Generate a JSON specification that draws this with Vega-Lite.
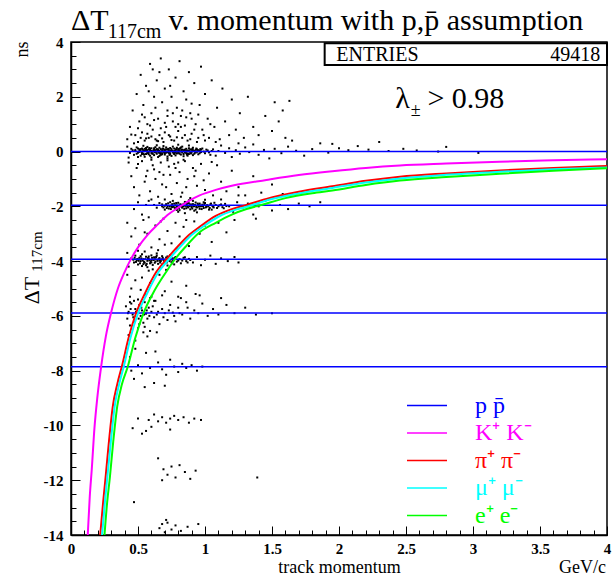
{
  "$schema": "https://vega.github.io/schema/vega-lite/v6.json",
  "width": 536,
  "height": 493,
  "autosize": "none",
  "padding": {"left": 71, "top": 42, "right": 9, "bottom": 47},
  "background": "white",
  "title": {
    "text": "ΔT\u00a0\u00a0\u00a0\u00a0\u00a0\u00a0\u00a0\u00a0v. momentum with p,p\u0304 assumption",
    "subtitle": "\u2060\u00a0\u00a0\u00a0\u00a0\u00a0\u00a0\u00a0\u200a117cm",
    "anchor": "start",
    "frame": "group",
    "font": "Liberation Serif",
    "fontSize": 30,
    "fontWeight": "normal",
    "color": "black",
    "subtitleFont": "Liberation Serif",
    "subtitleFontSize": 20,
    "subtitleColor": "black",
    "subtitlePadding": -14,
    "offset": 4,
    "dy": 11
  },
  "config": {
    "view": {"stroke": "black", "strokeWidth": 1.5},
    "axis": {
      "grid": false,
      "labelFont": "Liberation Serif",
      "labelFontWeight": "bold",
      "labelFontSize": 15,
      "labelColor": "black",
      "titleFont": "Liberation Serif",
      "titleFontWeight": "normal",
      "titleColor": "black",
      "tickColor": "black",
      "domainColor": "black",
      "labelFlush": false,
      "labelOverlap": false
    }
  },
  "datasets": {
    "pts": [
      {"p":0.46,"t":0.05},{"p":0.47,"t":-0.12},{"p":0.48,"t":0.02},{"p":0.49,"t":0.15},{"p":0.50,"t":-0.04},{"p":0.51,"t":0.08},{"p":0.52,"t":-0.15},{"p":0.52,"t":0.01},{"p":0.53,"t":0.11},{"p":0.54,"t":-0.07},{"p":0.55,"t":0.03},{"p":0.55,"t":-0.19},{"p":0.56,"t":0.06},{"p":0.57,"t":-0.02},{"p":0.57,"t":0.17},{"p":0.58,"t":-0.10},{"p":0.59,"t":0.04},{"p":0.60,"t":-0.05},{"p":0.60,"t":0.12},{"p":0.61,"t":0.00},{"p":0.62,"t":-0.13},{"p":0.62,"t":0.07},{"p":0.63,"t":-0.03},{"p":0.64,"t":0.09},{"p":0.64,"t":-0.08},{"p":0.65,"t":0.02},{"p":0.66,"t":-0.16},{"p":0.66,"t":0.14},{"p":0.67,"t":-0.01},{"p":0.68,"t":0.05},{"p":0.68,"t":-0.06},{"p":0.69,"t":0.10},{"p":0.70,"t":-0.11},{"p":0.70,"t":0.03},{"p":0.71,"t":-0.04},{"p":0.72,"t":0.07},{"p":0.72,"t":-0.18},{"p":0.73,"t":0.01},{"p":0.74,"t":0.13},{"p":0.74,"t":-0.07},{"p":0.75,"t":0.04},{"p":0.76,"t":-0.02},{"p":0.76,"t":0.18},{"p":0.77,"t":-0.09},{"p":0.78,"t":0.06},{"p":0.78,"t":-0.14},{"p":0.79,"t":0.00},{"p":0.80,"t":0.09},{"p":0.80,"t":-0.05},{"p":0.81,"t":0.03},{"p":0.82,"t":-0.11},{"p":0.82,"t":0.15},{"p":0.83,"t":-0.03},{"p":0.84,"t":0.05},{"p":0.84,"t":-0.17},{"p":0.85,"t":0.01},{"p":0.86,"t":0.10},{"p":0.86,"t":-0.06},{"p":0.87,"t":0.04},{"p":0.88,"t":-0.09},{"p":0.88,"t":0.12},{"p":0.89,"t":-0.01},{"p":0.90,"t":0.06},{"p":0.91,"t":-0.13},{"p":0.92,"t":0.02},{"p":0.93,"t":-0.04},{"p":0.94,"t":0.08},{"p":0.95,"t":-0.10},{"p":0.96,"t":0.03},{"p":0.97,"t":-0.02},{"p":0.98,"t":0.11},{"p":1.00,"t":-0.06},{"p":1.02,"t":0.04},{"p":1.04,"t":-0.12},{"p":0.53,"t":-0.09},{"p":0.56,"t":0.13},{"p":0.59,"t":-0.15},{"p":0.63,"t":0.16},{"p":0.67,"t":-0.12},{"p":0.71,"t":0.15},{"p":0.75,"t":-0.16},{"p":0.79,"t":0.14},{"p":0.83,"t":0.18},{"p":0.87,"t":-0.15},{"p":0.91,"t":0.14},{"p":0.58,"t":0.08},{"p":0.65,"t":-0.20},{"p":0.69,"t":0.20},{"p":0.73,"t":-0.05},{"p":0.77,"t":0.11},{"p":0.81,"t":-0.08},{"p":0.85,"t":0.07},{"p":0.62,"t":0.03},{"p":0.66,"t":-0.03},{"p":0.70,"t":0.06},{"p":0.74,"t":0.00},{"p":0.78,"t":-0.04},{"p":0.60,"t":-0.22},{"p":0.64,"t":0.23},{"p":0.72,"t":-0.25},{"p":0.80,"t":0.25},{"p":0.88,"t":0.22},{"p":0.54,"t":0.21},{"p":0.50,"t":-0.20},{"p":0.45,"t":0.10},{"p":0.44,"t":-0.05},{"p":0.42,"t":0.18},{"p":0.43,"t":-0.22},
      {"p":0.48,"t":0.06},{"p":0.49,"t":-0.08},{"p":0.50,"t":0.11},{"p":0.51,"t":-0.01},{"p":0.52,"t":0.09},{"p":0.53,"t":-0.05},{"p":0.54,"t":0.04},{"p":0.55,"t":0.10},{"p":0.56,"t":-0.09},{"p":0.57,"t":0.05},{"p":0.58,"t":-0.03},{"p":0.59,"t":0.09},{"p":0.60,"t":0.02},{"p":0.61,"t":-0.08},{"p":0.62,"t":0.12},{"p":0.63,"t":0.05},{"p":0.64,"t":-0.01},{"p":0.65,"t":0.08},{"p":0.66,"t":0.03},{"p":0.67,"t":0.09},{"p":0.68,"t":-0.10},{"p":0.69,"t":0.01},{"p":0.70,"t":-0.06},{"p":0.71,"t":0.08},{"p":0.72,"t":-0.02},{"p":0.73,"t":0.06},{"p":0.74,"t":-0.10},{"p":0.75,"t":0.09},{"p":0.76,"t":0.02},{"p":0.77,"t":-0.05},{"p":0.78,"t":0.01},{"p":0.79,"t":-0.07},{"p":0.80,"t":0.04},{"p":0.81,"t":0.10},{"p":0.82,"t":0.00},{"p":0.83,"t":0.07},{"p":0.84,"t":-0.09},{"p":0.85,"t":-0.03},{"p":0.86,"t":0.02},{"p":0.87,"t":-0.07},{"p":0.88,"t":0.03},{"p":0.89,"t":0.08},{"p":0.90,"t":-0.04},{"p":0.91,"t":0.05},{"p":0.92,"t":-0.08},{"p":0.93,"t":0.06},{"p":0.94,"t":-0.01},{"p":0.95,"t":0.05},{"p":0.96,"t":-0.06},{"p":0.97,"t":0.07},{"p":0.99,"t":0.00},{"p":1.01,"t":0.07},{"p":1.03,"t":-0.03},{"p":1.05,"t":0.02},{"p":0.505,"t":0.00},{"p":0.515,"t":0.05},{"p":0.545,"t":-0.11},{"p":0.565,"t":0.01},{"p":0.585,"t":0.13},{"p":0.605,"t":-0.07},{"p":0.625,"t":-0.02},{"p":0.645,"t":0.05},{"p":0.665,"t":-0.07},{"p":0.685,"t":0.11},{"p":0.705,"t":0.00},{"p":0.725,"t":0.10},{"p":0.745,"t":0.03},{"p":0.765,"t":-0.06},{"p":0.785,"t":0.09},{"p":0.805,"t":-0.01},{"p":0.825,"t":0.06},{"p":0.845,"t":0.01},{"p":0.865,"t":-0.11},{"p":0.885,"t":0.00},{"p":0.905,"t":0.10},{"p":0.925,"t":-0.01},{"p":0.945,"t":0.03},{"p":0.965,"t":0.09},{"p":0.535,"t":0.07},{"p":0.575,"t":-0.06},{"p":0.615,"t":0.04},{"p":0.655,"t":-0.04},{"p":0.695,"t":-0.03},{"p":0.735,"t":-0.12},{"p":0.775,"t":0.02},{"p":0.815,"t":0.12},{"p":0.855,"t":-0.01},{"p":0.895,"t":-0.07},{"p":0.935,"t":0.11},
      {"p":1.06,"t":0.08},{"p":1.08,"t":-0.15},{"p":1.10,"t":0.02},{"p":1.12,"t":0.22},{"p":1.15,"t":-0.05},{"p":1.18,"t":0.12},{"p":1.20,"t":-0.20},{"p":1.23,"t":0.05},{"p":1.26,"t":-0.08},{"p":1.30,"t":0.15},{"p":1.33,"t":-0.02},{"p":1.36,"t":0.26},{"p":1.40,"t":-0.12},{"p":1.44,"t":0.06},{"p":1.48,"t":-0.25},{"p":1.52,"t":0.10},{"p":1.57,"t":-0.06},{"p":1.62,"t":0.18},{"p":1.68,"t":0.03},{"p":1.74,"t":-0.15},{"p":1.80,"t":0.09},{"p":1.86,"t":0.30},{"p":1.92,"t":-0.04},{"p":2.00,"t":0.12},{"p":2.07,"t":0.05},{"p":2.14,"t":0.20},{"p":2.22,"t":0.07},{"p":2.30,"t":0.35},{"p":2.37,"t":0.02},{"p":2.48,"t":0.10},{"p":2.58,"t":0.04},{"p":1.95,"t":0.28},{"p":1.65,"t":0.40},{"p":1.25,"t":0.30},{"p":2.74,"t":0.0},{"p":2.80,"t":0.17},{"p":3.04,"t":-0.05},
      {"p":0.42,"t":0.45},{"p":0.44,"t":0.9},{"p":0.46,"t":1.5},{"p":0.48,"t":0.6},{"p":0.49,"t":2.1},{"p":0.50,"t":0.35},{"p":0.51,"t":1.1},{"p":0.52,"t":2.8},{"p":0.53,"t":0.7},{"p":0.54,"t":1.7},{"p":0.55,"t":0.4},{"p":0.56,"t":2.4},{"p":0.57,"t":1.0},{"p":0.58,"t":0.5},{"p":0.59,"t":3.2},{"p":0.60,"t":1.4},{"p":0.61,"t":0.8},{"p":0.62,"t":2.0},{"p":0.63,"t":0.45},{"p":0.64,"t":2.6},{"p":0.65,"t":1.2},{"p":0.66,"t":0.6},{"p":0.67,"t":3.4},{"p":0.68,"t":1.8},{"p":0.69,"t":0.35},{"p":0.70,"t":2.3},{"p":0.71,"t":0.9},{"p":0.72,"t":1.5},{"p":0.73,"t":3.0},{"p":0.74,"t":0.55},{"p":0.75,"t":2.0},{"p":0.76,"t":1.1},{"p":0.77,"t":0.4},{"p":0.78,"t":2.7},{"p":0.79,"t":1.6},{"p":0.80,"t":0.75},{"p":0.81,"t":3.3},{"p":0.82,"t":1.3},{"p":0.83,"t":0.5},{"p":0.84,"t":2.2},{"p":0.85,"t":0.95},{"p":0.86,"t":1.9},{"p":0.87,"t":0.4},{"p":0.88,"t":2.9},{"p":0.89,"t":1.4},{"p":0.90,"t":0.65},{"p":0.92,"t":2.5},{"p":0.93,"t":1.0},{"p":0.94,"t":0.35},{"p":0.96,"t":1.7},{"p":0.97,"t":3.1},{"p":0.98,"t":0.8},{"p":1.00,"t":2.1},{"p":1.02,"t":1.2},{"p":1.03,"t":0.5},{"p":1.05,"t":2.6},{"p":1.07,"t":0.9},{"p":1.09,"t":1.6},{"p":1.11,"t":0.45},{"p":1.13,"t":2.3},{"p":1.15,"t":1.1},{"p":1.18,"t":0.6},{"p":1.20,"t":1.9},{"p":1.23,"t":0.8},{"p":1.26,"t":1.4},{"p":1.29,"t":0.5},{"p":1.32,"t":2.0},{"p":1.36,"t":0.9},{"p":1.40,"t":0.6},{"p":1.45,"t":1.3},{"p":1.50,"t":0.75},{"p":1.55,"t":1.1},{"p":1.60,"t":0.5},{"p":0.47,"t":0.3},{"p":0.55,"t":1.25},{"p":0.60,"t":0.55},{"p":0.65,"t":0.38},{"p":0.70,"t":0.7},{"p":0.75,"t":0.42},{"p":0.80,"t":1.0},{"p":0.85,"t":0.6},{"p":0.90,"t":1.2},{"p":0.95,"t":0.5},{"p":0.63,"t":1.6},{"p":0.72,"t":1.3},{"p":0.78,"t":0.9},{"p":0.68,"t":0.48},{"p":0.57,"t":0.65},{"p":0.83,"t":1.5},{"p":0.58,"t":2.2},{"p":0.74,"t":2.4},{"p":0.66,"t":2.9},{"p":0.90,"t":1.75},{"p":1.00,"t":0.4},{"p":0.52,"t":0.5},{"p":0.61,"t":3.0},{"p":1.52,"t":1.8},{"p":1.58,"t":1.5},{"p":1.63,"t":1.85},
      {"p":0.45,"t":0.62},{"p":0.50,"t":0.85},{"p":0.53,"t":1.35},{"p":0.56,"t":0.48},{"p":0.59,"t":0.95},{"p":0.62,"t":1.15},{"p":0.64,"t":0.4},{"p":0.67,"t":0.85},{"p":0.70,"t":1.05},{"p":0.73,"t":0.6},{"p":0.76,"t":1.4},{"p":0.79,"t":0.52},{"p":0.82,"t":0.9},{"p":0.86,"t":1.25},{"p":0.89,"t":0.45},{"p":0.92,"t":0.8},{"p":0.95,"t":1.35},{"p":0.99,"t":0.6},{"p":1.04,"t":1.0},{"p":1.08,"t":0.35},{"p":0.50,"t":-0.45},{"p":0.56,"t":-0.9},{"p":0.62,"t":-0.65},{"p":0.68,"t":-1.2},{"p":0.74,"t":-0.85},{"p":0.80,"t":-0.4},{"p":0.86,"t":-1.3},{"p":0.93,"t":-0.7},{"p":0.99,"t":-1.05},{"p":1.05,"t":-0.38},{"p":0.70,"t":-1.75},{"p":0.58,"t":-1.8},{"p":0.82,"t":-1.65},{"p":1.12,"t":-1.75},
      {"p":0.43,"t":-0.4},{"p":0.45,"t":-0.9},{"p":0.47,"t":-1.3},{"p":0.49,"t":-0.6},{"p":0.51,"t":-1.6},{"p":0.53,"t":-0.35},{"p":0.55,"t":-1.1},{"p":0.57,"t":-0.7},{"p":0.59,"t":-1.45},{"p":0.61,"t":-0.5},{"p":0.63,"t":-1.0},{"p":0.65,"t":-1.65},{"p":0.67,"t":-0.4},{"p":0.69,"t":-0.85},{"p":0.71,"t":-1.3},{"p":0.73,"t":-0.55},{"p":0.75,"t":-1.55},{"p":0.77,"t":-0.45},{"p":0.79,"t":-1.15},{"p":0.81,"t":-0.75},{"p":0.83,"t":-1.5},{"p":0.85,"t":-0.35},{"p":0.87,"t":-1.0},{"p":0.89,"t":-1.7},{"p":0.91,"t":-0.6},{"p":0.94,"t":-1.25},{"p":0.97,"t":-0.45},{"p":1.00,"t":-1.4},{"p":1.03,"t":-0.8},{"p":1.06,"t":-1.6},{"p":1.09,"t":-0.5},{"p":1.12,"t":-1.1},{"p":1.16,"t":-1.45},{"p":1.20,"t":-0.7},{"p":1.25,"t":-1.3},{"p":1.30,"t":-1.6},{"p":1.36,"t":-0.9},{"p":1.42,"t":-1.5},{"p":1.50,"t":-1.2},{"p":1.58,"t":-1.55},{"p":0.60,"t":-0.3},{"p":0.72,"t":-0.32},{"p":0.84,"t":-0.3},{"p":0.66,"t":-0.75},{"p":0.78,"t":-0.6},{"p":0.92,"t":-0.9},
      {"p":0.62,"t":-1.95},{"p":0.64,"t":-2.05},{"p":0.66,"t":-1.88},{"p":0.68,"t":-2.00},{"p":0.70,"t":-2.12},{"p":0.71,"t":-1.92},{"p":0.72,"t":-1.99},{"p":0.73,"t":-2.08},{"p":0.74,"t":-1.85},{"p":0.75,"t":-1.97},{"p":0.76,"t":-2.03},{"p":0.77,"t":-1.90},{"p":0.78,"t":-2.10},{"p":0.78,"t":-1.96},{"p":0.79,"t":-2.02},{"p":0.80,"t":-1.87},{"p":0.81,"t":-1.99},{"p":0.81,"t":-2.14},{"p":0.82,"t":-1.94},{"p":0.83,"t":-2.05},{"p":0.84,"t":-1.91},{"p":0.84,"t":-2.00},{"p":0.85,"t":-1.84},{"p":0.86,"t":-2.07},{"p":0.86,"t":-1.97},{"p":0.87,"t":-2.01},{"p":0.88,"t":-1.89},{"p":0.89,"t":-2.11},{"p":0.89,"t":-1.95},{"p":0.90,"t":-2.03},{"p":0.91,"t":-1.92},{"p":0.92,"t":-1.99},{"p":0.92,"t":-2.16},{"p":0.93,"t":-1.86},{"p":0.94,"t":-2.04},{"p":0.95,"t":-1.96},{"p":0.96,"t":-2.09},{"p":0.96,"t":-1.90},{"p":0.97,"t":-2.00},{"p":0.98,"t":-1.94},{"p":0.99,"t":-2.06},{"p":1.00,"t":-1.88},{"p":1.01,"t":-2.02},{"p":1.02,"t":-1.97},{"p":1.03,"t":-2.12},{"p":1.04,"t":-1.93},{"p":1.06,"t":-2.01},{"p":1.07,"t":-1.87},{"p":1.09,"t":-2.06},{"p":1.11,"t":-1.96},{"p":1.13,"t":-2.03},{"p":1.15,"t":-1.91},{"p":1.18,"t":-2.00},{"p":0.80,"t":-2.20},{"p":0.88,"t":-1.78},{"p":0.94,"t":-2.22},{"p":1.00,"t":-1.76},{"p":0.76,"t":-1.80},{"p":0.85,"t":-2.25},{"p":0.91,"t":-1.80},
      {"p":0.68,"t":-1.93},{"p":0.69,"t":-2.04},{"p":0.70,"t":-1.98},{"p":0.715,"t":-2.06},{"p":0.725,"t":-1.89},{"p":0.735,"t":-2.00},{"p":0.745,"t":-2.10},{"p":0.755,"t":-1.92},{"p":0.765,"t":-1.99},{"p":0.775,"t":-2.05},{"p":0.785,"t":-1.88},{"p":0.795,"t":-1.97},{"p":0.805,"t":-2.07},{"p":0.815,"t":-1.93},{"p":0.825,"t":-2.01},{"p":0.835,"t":-1.96},{"p":0.845,"t":-2.09},{"p":0.855,"t":-1.98},{"p":0.865,"t":-1.91},{"p":0.875,"t":-2.04},{"p":0.885,"t":-1.99},{"p":0.895,"t":-1.93},{"p":0.905,"t":-2.08},{"p":0.915,"t":-2.00},{"p":0.925,"t":-1.95},{"p":0.935,"t":-2.02},{"p":0.945,"t":-1.90},{"p":0.955,"t":-2.01},{"p":0.965,"t":-1.97},{"p":0.975,"t":-2.10},{"p":0.985,"t":-1.99},{"p":0.995,"t":-1.92},{"p":1.005,"t":-2.04},{"p":1.015,"t":-1.96},{"p":1.025,"t":-2.00},{"p":1.035,"t":-2.06},{"p":1.045,"t":-1.90},{"p":1.055,"t":-1.98},{"p":1.065,"t":-2.04},{"p":1.08,"t":-1.95},{"p":1.10,"t":-2.00},{"p":1.12,"t":-1.93},{"p":1.14,"t":-2.07},{"p":1.16,"t":-1.99},{"p":0.79,"t":-2.13},{"p":0.87,"t":-1.85},{"p":0.93,"t":-2.12},{"p":0.99,"t":-1.85},{"p":0.83,"t":-1.98},{"p":0.90,"t":-1.98},{"p":0.95,"t":-1.94},{"p":0.75,"t":-2.02},{"p":1.05,"t":-2.12},
      {"p":0.47,"t":-2.1},{"p":0.50,"t":-1.85},{"p":0.53,"t":-2.3},{"p":0.56,"t":-1.95},{"p":0.58,"t":-2.4},{"p":0.60,"t":-1.75},{"p":1.21,"t":-2.2},{"p":1.24,"t":-1.85},{"p":1.28,"t":-2.05},{"p":1.32,"t":-1.9},{"p":1.36,"t":-2.3},{"p":1.40,"t":-2.0},{"p":1.45,"t":-1.8},{"p":1.50,"t":-2.15},{"p":1.56,"t":-1.95},{"p":1.62,"t":-2.1},{"p":1.70,"t":-1.9},{"p":1.78,"t":-2.0},{"p":1.86,"t":-1.85},{"p":1.25,"t":-1.6},{"p":1.55,"t":-1.65},{"p":1.38,"t":-2.45},
      {"p":0.42,"t":-2.6},{"p":0.45,"t":-3.1},{"p":0.48,"t":-2.8},{"p":0.51,"t":-3.4},{"p":0.54,"t":-2.5},{"p":0.57,"t":-3.0},{"p":0.60,"t":-3.5},{"p":0.63,"t":-2.7},{"p":0.66,"t":-3.2},{"p":0.69,"t":-2.45},{"p":0.72,"t":-2.9},{"p":0.75,"t":-3.35},{"p":0.78,"t":-2.6},{"p":0.81,"t":-3.1},{"p":0.84,"t":-2.75},{"p":0.88,"t":-3.45},{"p":0.92,"t":-2.55},{"p":0.96,"t":-3.0},{"p":1.00,"t":-2.7},{"p":1.05,"t":-3.3},{"p":1.10,"t":-2.6},{"p":1.16,"t":-2.95},{"p":1.22,"t":-2.5},{"p":0.55,"t":-2.95},{"p":0.67,"t":-2.55},{"p":0.79,"t":-3.55},{"p":0.70,"t":-3.4},{"p":0.86,"t":-2.5},
      {"p":0.45,"t":-3.90},{"p":0.47,"t":-4.05},{"p":0.48,"t":-3.80},{"p":0.49,"t":-3.97},{"p":0.50,"t":-4.12},{"p":0.51,"t":-3.88},{"p":0.52,"t":-4.00},{"p":0.53,"t":-3.75},{"p":0.53,"t":-4.18},{"p":0.54,"t":-3.93},{"p":0.55,"t":-4.06},{"p":0.56,"t":-3.84},{"p":0.57,"t":-3.99},{"p":0.57,"t":-4.22},{"p":0.58,"t":-3.91},{"p":0.59,"t":-4.08},{"p":0.60,"t":-3.79},{"p":0.60,"t":-3.96},{"p":0.61,"t":-4.14},{"p":0.62,"t":-3.86},{"p":0.63,"t":-4.02},{"p":0.63,"t":-3.93},{"p":0.64,"t":-3.72},{"p":0.65,"t":-4.10},{"p":0.66,"t":-3.89},{"p":0.67,"t":-4.00},{"p":0.67,"t":-4.25},{"p":0.68,"t":-3.82},{"p":0.69,"t":-3.95},{"p":0.70,"t":-4.07},{"p":0.71,"t":-3.87},{"p":0.72,"t":-4.16},{"p":0.73,"t":-3.94},{"p":0.74,"t":-3.78},{"p":0.75,"t":-4.04},{"p":0.76,"t":-3.90},{"p":0.77,"t":-4.12},{"p":0.78,"t":-3.85},{"p":0.80,"t":-3.98},{"p":0.82,"t":-4.08},{"p":0.84,"t":-3.88},{"p":0.86,"t":-4.00},{"p":0.88,"t":-3.92},{"p":0.55,"t":-3.65},{"p":0.61,"t":-4.30},{"p":0.65,"t":-3.60},{"p":0.71,"t":-4.32},{"p":0.58,"t":-4.35},{"p":0.50,"t":-3.62},
      {"p":0.465,"t":-3.95},{"p":0.475,"t":-3.88},{"p":0.485,"t":-4.03},{"p":0.495,"t":-3.92},{"p":0.505,"t":-3.99},{"p":0.515,"t":-4.08},{"p":0.525,"t":-3.90},{"p":0.535,"t":-3.98},{"p":0.545,"t":-4.03},{"p":0.555,"t":-3.93},{"p":0.565,"t":-4.10},{"p":0.575,"t":-3.89},{"p":0.585,"t":-3.97},{"p":0.595,"t":-4.02},{"p":0.605,"t":-3.88},{"p":0.615,"t":-3.96},{"p":0.625,"t":-4.06},{"p":0.635,"t":-3.85},{"p":0.645,"t":-3.99},{"p":0.655,"t":-3.92},{"p":0.665,"t":-4.05},{"p":0.675,"t":-3.94},{"p":0.685,"t":-3.88},{"p":0.695,"t":-4.01},{"p":0.705,"t":-3.95},{"p":0.715,"t":-4.05},{"p":0.725,"t":-3.90},{"p":0.735,"t":-4.00},{"p":0.745,"t":-3.94},{"p":0.755,"t":-4.08},{"p":0.765,"t":-3.96},{"p":0.775,"t":-3.89},{"p":0.79,"t":-4.02},{"p":0.81,"t":-3.93},{"p":0.83,"t":-3.98},{"p":0.85,"t":-3.86},{"p":0.87,"t":-4.05},{"p":0.89,"t":-3.96},{"p":0.52,"t":-3.82},{"p":0.56,"t":-4.15},{"p":0.60,"t":-4.05},{"p":0.64,"t":-3.80},{"p":0.68,"t":-4.12},{"p":0.72,"t":-3.83},{"p":0.76,"t":-4.00},{"p":0.50,"t":-3.94},{"p":0.54,"t":-4.11},{"p":0.58,"t":-3.83},{"p":0.62,"t":-3.94},{"p":0.66,"t":-3.98},
      {"p":0.91,"t":-4.05},{"p":0.94,"t":-3.85},{"p":0.97,"t":-4.15},{"p":1.00,"t":-3.95},{"p":1.04,"t":-3.80},{"p":1.08,"t":-4.10},{"p":1.12,"t":-3.90},{"p":1.17,"t":-4.00},{"p":1.22,"t":-3.85},{"p":1.25,"t":-4.05},{"p":0.43,"t":-4.2},{"p":0.42,"t":-3.7},
      {"p":0.42,"t":-4.5},{"p":0.45,"t":-5.0},{"p":0.48,"t":-4.7},{"p":0.50,"t":-5.4},{"p":0.53,"t":-4.6},{"p":0.56,"t":-5.2},{"p":0.59,"t":-4.8},{"p":0.62,"t":-5.45},{"p":0.66,"t":-4.5},{"p":0.70,"t":-5.1},{"p":0.75,"t":-4.75},{"p":0.80,"t":-5.3},{"p":0.86,"t":-4.9},{"p":0.93,"t":-5.2},{"p":0.44,"t":-5.5},{"p":0.52,"t":-5.05},
      {"p":0.41,"t":-5.65},{"p":0.42,"t":-6.1},{"p":0.43,"t":-5.85},{"p":0.44,"t":-6.35},{"p":0.45,"t":-5.55},{"p":0.46,"t":-5.95},{"p":0.47,"t":-6.2},{"p":0.48,"t":-5.75},{"p":0.49,"t":-5.9},{"p":0.50,"t":-6.45},{"p":0.51,"t":-5.6},{"p":0.52,"t":-6.0},{"p":0.53,"t":-5.8},{"p":0.54,"t":-6.25},{"p":0.55,"t":-5.5},{"p":0.56,"t":-5.92},{"p":0.57,"t":-6.1},{"p":0.58,"t":-5.7},{"p":0.59,"t":-6.55},{"p":0.60,"t":-5.85},{"p":0.62,"t":-6.05},{"p":0.63,"t":-5.45},{"p":0.64,"t":-5.95},{"p":0.66,"t":-6.3},{"p":0.68,"t":-5.75},{"p":0.70,"t":-5.9},{"p":0.72,"t":-6.15},{"p":0.74,"t":-5.6},{"p":0.76,"t":-5.88},{"p":0.78,"t":-6.2},{"p":0.80,"t":-5.7},{"p":0.83,"t":-5.95},{"p":0.86,"t":-5.5},{"p":0.89,"t":-6.1},{"p":0.92,"t":-5.8},{"p":0.95,"t":-5.9},{"p":0.98,"t":-5.55},{"p":1.02,"t":-6.0},{"p":1.06,"t":-5.75},{"p":1.10,"t":-5.95},{"p":1.16,"t":-5.6},{"p":1.22,"t":-5.9},{"p":1.30,"t":-5.7},{"p":1.38,"t":-5.95},{"p":1.50,"t":-5.9},{"p":0.43,"t":-6.7},{"p":0.48,"t":-6.9},{"p":0.54,"t":-6.6},{"p":0.60,"t":-5.3},{"p":0.68,"t":-5.25},{"p":0.82,"t":-5.35},{"p":0.44,"t":-5.3},{"p":0.57,"t":-6.75},{"p":0.64,"t":-6.6},{"p":1.12,"t":-5.35},{"p":0.96,"t":-5.25},
      {"p":0.425,"t":-5.9},{"p":0.445,"t":-5.75},{"p":0.465,"t":-6.05},{"p":0.485,"t":-5.85},{"p":0.505,"t":-6.1},{"p":0.525,"t":-5.7},{"p":0.545,"t":-5.95},{"p":0.565,"t":-5.8},{"p":0.585,"t":-6.0},{"p":0.61,"t":-5.65},{"p":0.65,"t":-5.85},{"p":0.69,"t":-6.05},{"p":0.73,"t":-5.8},{"p":0.77,"t":-6.0},{"p":0.81,"t":-5.9},{"p":0.87,"t":-5.7},{"p":0.47,"t":-5.45},{"p":0.51,"t":-6.3},{"p":0.55,"t":-6.4},{"p":0.59,"t":-5.35},
      {"p":0.44,"t":-7.5},{"p":0.47,"t":-8.3},{"p":0.50,"t":-7.8},{"p":0.53,"t":-8.1},{"p":0.56,"t":-7.35},{"p":0.59,"t":-7.9},{"p":0.62,"t":-8.45},{"p":0.65,"t":-7.7},{"p":0.68,"t":-7.95},{"p":0.71,"t":-8.15},{"p":0.74,"t":-7.6},{"p":0.77,"t":-7.85},{"p":0.80,"t":-8.05},{"p":0.83,"t":-7.75},{"p":0.86,"t":-7.9},{"p":0.90,"t":-7.8},{"p":0.94,"t":-8.0},{"p":0.98,"t":-7.85},{"p":0.55,"t":-8.6},{"p":0.48,"t":-7.2},{"p":0.63,"t":-7.3},{"p":0.70,"t":-8.55},{"p":0.45,"t":-8.0},
      {"p":0.46,"t":-10.1},{"p":0.50,"t":-9.75},{"p":0.53,"t":-10.3},{"p":0.58,"t":-9.8},{"p":0.62,"t":-9.6},{"p":0.65,"t":-9.85},{"p":0.68,"t":-9.7},{"p":0.71,"t":-9.9},{"p":0.74,"t":-9.75},{"p":0.77,"t":-9.65},{"p":0.80,"t":-9.8},{"p":0.84,"t":-9.7},{"p":0.88,"t":-9.9},{"p":0.92,"t":-9.75},{"p":0.97,"t":-9.8},{"p":0.56,"t":-10.2},{"p":0.74,"t":-10.15},{"p":0.60,"t":-10.05},
      {"p":0.65,"t":-11.2},{"p":0.69,"t":-11.6},{"p":0.72,"t":-11.8},{"p":0.75,"t":-11.5},{"p":0.78,"t":-11.9},{"p":0.81,"t":-11.45},{"p":0.85,"t":-11.7},{"p":0.89,"t":-11.95},{"p":0.93,"t":-11.65},{"p":0.68,"t":-12.0},{"p":1.39,"t":-11.9},{"p":0.47,"t":-12.8},
      {"p":0.66,"t":-13.75},{"p":0.68,"t":-13.6},{"p":0.70,"t":-13.9},{"p":0.72,"t":-13.55},{"p":0.75,"t":-13.8},{"p":0.78,"t":-13.65},{"p":0.82,"t":-13.85},{"p":0.87,"t":-13.7},{"p":0.95,"t":-13.6},{"p":0.71,"t":-13.45}
    ],
    "buckets": [
      {"particle":"p p\u0304","t":0},
      {"particle":"p p\u0304","t":-1.965},
      {"particle":"p p\u0304","t":-3.93},
      {"particle":"p p\u0304","t":-5.895},
      {"particle":"p p\u0304","t":-7.86}
    ],
    "curves": [
      {"particle":"K⁺ K⁻","p":0.125,"t":-14},{"particle":"K⁺ K⁻","p":0.14,"t":-12.6},{"particle":"K⁺ K⁻","p":0.155,"t":-11.6},{"particle":"K⁺ K⁻","p":0.175,"t":-10.1},{"particle":"K⁺ K⁻","p":0.196,"t":-9.0},{"particle":"K⁺ K⁻","p":0.225,"t":-7.85},{"particle":"K⁺ K⁻","p":0.26,"t":-6.75},{"particle":"K⁺ K⁻","p":0.30,"t":-5.87},{"particle":"K⁺ K⁻","p":0.35,"t":-5.0},{"particle":"K⁺ K⁻","p":0.40,"t":-4.4},{"particle":"K⁺ K⁻","p":0.45,"t":-3.9},{"particle":"K⁺ K⁻","p":0.50,"t":-3.5},{"particle":"K⁺ K⁻","p":0.57,"t":-3.05},{"particle":"K⁺ K⁻","p":0.65,"t":-2.65},{"particle":"K⁺ K⁻","p":0.72,"t":-2.32},{"particle":"K⁺ K⁻","p":0.80,"t":-2.05},{"particle":"K⁺ K⁻","p":0.88,"t":-1.8},{"particle":"K⁺ K⁻","p":0.96,"t":-1.6},{"particle":"K⁺ K⁻","p":1.08,"t":-1.4},{"particle":"K⁺ K⁻","p":1.2,"t":-1.25},{"particle":"K⁺ K⁻","p":1.458,"t":-1.04},{"particle":"K⁺ K⁻","p":1.7,"t":-0.86},{"particle":"K⁺ K⁻","p":1.95,"t":-0.72},{"particle":"K⁺ K⁻","p":2.2,"t":-0.6},{"particle":"K⁺ K⁻","p":2.455,"t":-0.51},{"particle":"K⁺ K⁻","p":2.8,"t":-0.44},{"particle":"K⁺ K⁻","p":3.2,"t":-0.37},{"particle":"K⁺ K⁻","p":3.6,"t":-0.32},{"particle":"K⁺ K⁻","p":4,"t":-0.28},
      {"particle":"π⁺ π⁻","p":0.218,"t":-14},{"particle":"π⁺ π⁻","p":0.24,"t":-12.8},{"particle":"π⁺ π⁻","p":0.26,"t":-11.8},{"particle":"π⁺ π⁻","p":0.285,"t":-10.5},{"particle":"π⁺ π⁻","p":0.312,"t":-9.3},{"particle":"π⁺ π⁻","p":0.345,"t":-8.5},{"particle":"π⁺ π⁻","p":0.382,"t":-7.8},{"particle":"π⁺ π⁻","p":0.43,"t":-6.8},{"particle":"π⁺ π⁻","p":0.482,"t":-5.95},{"particle":"π⁺ π⁻","p":0.55,"t":-5.2},{"particle":"π⁺ π⁻","p":0.636,"t":-4.4},{"particle":"π⁺ π⁻","p":0.71,"t":-3.95},{"particle":"π⁺ π⁻","p":0.80,"t":-3.45},{"particle":"π⁺ π⁻","p":0.88,"t":-3.05},{"particle":"π⁺ π⁻","p":0.96,"t":-2.75},{"particle":"π⁺ π⁻","p":1.08,"t":-2.35},{"particle":"π⁺ π⁻","p":1.2,"t":-2.1},{"particle":"π⁺ π⁻","p":1.31,"t":-1.95},{"particle":"π⁺ π⁻","p":1.458,"t":-1.73},{"particle":"π⁺ π⁻","p":1.7,"t":-1.47},{"particle":"π⁺ π⁻","p":1.95,"t":-1.27},{"particle":"π⁺ π⁻","p":2.2,"t":-1.07},{"particle":"π⁺ π⁻","p":2.455,"t":-0.92},{"particle":"π⁺ π⁻","p":2.8,"t":-0.8},{"particle":"π⁺ π⁻","p":3.2,"t":-0.69},{"particle":"π⁺ π⁻","p":3.6,"t":-0.6},{"particle":"π⁺ π⁻","p":4,"t":-0.53},
      {"particle":"μ⁺ μ⁻","p":0.232,"t":-14},{"particle":"μ⁺ μ⁻","p":0.253,"t":-12.8},{"particle":"μ⁺ μ⁻","p":0.273,"t":-11.8},{"particle":"μ⁺ μ⁻","p":0.299,"t":-10.5},{"particle":"μ⁺ μ⁻","p":0.326,"t":-9.3},{"particle":"μ⁺ μ⁻","p":0.359,"t":-8.5},{"particle":"μ⁺ μ⁻","p":0.396,"t":-7.8},{"particle":"μ⁺ μ⁻","p":0.444,"t":-6.8},{"particle":"μ⁺ μ⁻","p":0.497,"t":-5.95},{"particle":"μ⁺ μ⁻","p":0.566,"t":-5.2},{"particle":"μ⁺ μ⁻","p":0.653,"t":-4.4},{"particle":"μ⁺ μ⁻","p":0.728,"t":-3.95},{"particle":"μ⁺ μ⁻","p":0.82,"t":-3.45},{"particle":"μ⁺ μ⁻","p":0.90,"t":-3.05},{"particle":"μ⁺ μ⁻","p":0.98,"t":-2.76},{"particle":"μ⁺ μ⁻","p":1.1,"t":-2.38},{"particle":"μ⁺ μ⁻","p":1.22,"t":-2.14},{"particle":"μ⁺ μ⁻","p":1.33,"t":-1.99},{"particle":"μ⁺ μ⁻","p":1.458,"t":-1.79},{"particle":"μ⁺ μ⁻","p":1.7,"t":-1.53},{"particle":"μ⁺ μ⁻","p":1.95,"t":-1.33},{"particle":"μ⁺ μ⁻","p":2.2,"t":-1.13},{"particle":"μ⁺ μ⁻","p":2.455,"t":-0.98},{"particle":"μ⁺ μ⁻","p":2.8,"t":-0.85},{"particle":"μ⁺ μ⁻","p":3.2,"t":-0.74},{"particle":"μ⁺ μ⁻","p":3.6,"t":-0.65},{"particle":"μ⁺ μ⁻","p":4,"t":-0.58},
      {"particle":"e⁺ e⁻","p":0.25,"t":-14},{"particle":"e⁺ e⁻","p":0.27,"t":-12.8},{"particle":"e⁺ e⁻","p":0.29,"t":-11.9},{"particle":"e⁺ e⁻","p":0.315,"t":-10.6},{"particle":"e⁺ e⁻","p":0.345,"t":-9.3},{"particle":"e⁺ e⁻","p":0.38,"t":-8.5},{"particle":"e⁺ e⁻","p":0.424,"t":-7.85},{"particle":"e⁺ e⁻","p":0.48,"t":-6.8},{"particle":"e⁺ e⁻","p":0.541,"t":-5.9},{"particle":"e⁺ e⁻","p":0.62,"t":-5.1},{"particle":"e⁺ e⁻","p":0.716,"t":-4.35},{"particle":"e⁺ e⁻","p":0.773,"t":-3.95},{"particle":"e⁺ e⁻","p":0.86,"t":-3.45},{"particle":"e⁺ e⁻","p":0.96,"t":-2.95},{"particle":"e⁺ e⁻","p":1.08,"t":-2.6},{"particle":"e⁺ e⁻","p":1.2,"t":-2.3},{"particle":"e⁺ e⁻","p":1.31,"t":-2.1},{"particle":"e⁺ e⁻","p":1.42,"t":-1.95},{"particle":"e⁺ e⁻","p":1.6,"t":-1.7},{"particle":"e⁺ e⁻","p":1.8,"t":-1.52},{"particle":"e⁺ e⁻","p":1.95,"t":-1.42},{"particle":"e⁺ e⁻","p":2.2,"t":-1.22},{"particle":"e⁺ e⁻","p":2.455,"t":-1.06},{"particle":"e⁺ e⁻","p":2.8,"t":-0.93},{"particle":"e⁺ e⁻","p":3.2,"t":-0.81},{"particle":"e⁺ e⁻","p":3.6,"t":-0.7},{"particle":"e⁺ e⁻","p":4,"t":-0.61}
    ],
    "box": [{"p":1.893,"p2":4,"t":3.95,"t2":3.16}],
    "boxLeft": [{"label":"ENTRIES","p":1.98,"t":3.32}],
    "boxRight": [{"label":"49418","p":3.95,"t":3.32}],
    "cut": [
      {"label":"λ","p":2.42,"t":1.6},
      {"label":"> 0.98","p":2.66,"t":1.6}
    ],
    "cutSub": [
      {"label":"±","p":2.535,"t":1.3}
    ]
  },
  "layer": [
    {
      "data": {"name": "pts"},
      "mark": {"type": "square", "size": 4, "color": "black", "opacity": 1, "clip": true},
      "encoding": {
        "x": {
          "field": "p", "type": "quantitative",
          "scale": {"domain": [0, 4], "nice": false, "zero": false},
          "axis": {
            "orient": "bottom",
            "values": [0, 0.5, 1, 1.5, 2, 2.5, 3, 3.5, 4],
            "labelExpr": "'' + datum.value",
            "tickSize": -9, "tickWidth": 1, "labelPadding": 15, "domainWidth": 1.5,
            "title": "track momentum", "titleFontSize": 18,
            "titleX": 268, "titleY": 37, "titleAlign": "center", "titleBaseline": "alphabetic"
          }
        },
        "y": {
          "field": "t", "type": "quantitative",
          "scale": {"domain": [-14, 4], "nice": false, "zero": false},
          "axis": {
            "orient": "left",
            "values": [-14, -12, -10, -8, -6, -4, -2, 0, 2, 4],
            "labelExpr": "'' + datum.value",
            "tickSize": -9, "tickWidth": 1, "labelPadding": 17, "domainWidth": 1.5,
            "title": "ΔT", "titleFontSize": 22, "titleAngle": 270,
            "titleX": -40, "titleY": 248, "titleAlign": "center", "titleBaseline": "middle"
          }
        }
      }
    },
    {
      "data": {"name": "buckets"},
      "mark": {"type": "rule", "strokeWidth": 1.5},
      "encoding": {
        "y": {
          "field": "t", "type": "quantitative",
          "scale": {"domain": [-14, 4], "nice": false, "zero": false},
          "axis": {
            "orient": "left",
            "values": [-14, -13.5, -13, -12.5, -12, -11.5, -11, -10.5, -10, -9.5, -9, -8.5, -8, -7.5, -7, -6.5, -6, -5.5, -5, -4.5, -4, -3.5, -3, -2.5, -2, -1.5, -1, -0.5, 0, 0.5, 1, 1.5, 2, 2.5, 3, 3.5, 4],
            "labels": false, "domain": false, "tickSize": -5, "tickWidth": 1,
            "title": "ns", "titleFontSize": 18, "titleAngle": 270,
            "titleX": -49, "titleY": 7, "titleAlign": "center", "titleBaseline": "middle"
          }
        },
        "color": {
          "field": "particle", "type": "nominal",
          "scale": {
            "domain": ["p p\u0304", "K⁺ K⁻", "π⁺ π⁻", "μ⁺ μ⁻", "e⁺ e⁻"],
            "range": ["#0000ff", "#ff00ff", "#ff0000", "#00ffff", "#00ff00"]
          },
          "legend": {
            "orient": "none", "legendX": 335, "legendY": 350,
            "title": null, "symbolType": "stroke", "symbolSize": 1600, "symbolStrokeWidth": 1.5,
            "labelFont": "Liberation Serif", "labelFontSize": 24, "labelOffset": 27, "labelLimit": 200,
            "clipHeight": 27, "rowPadding": 0.5, "padding": 0,
            "encode": {"labels": {"update": {"fill": {"scale": "color", "field": "value"}}}}
          }
        }
      }
    },
    {
      "data": {"name": "curves"},
      "mark": {"type": "line", "strokeWidth": 2, "interpolate": "monotone", "clip": true},
      "encoding": {
        "x": {
          "field": "p", "type": "quantitative",
          "scale": {"domain": [0, 4], "nice": false, "zero": false},
          "axis": {
            "orient": "bottom",
            "values": [0, 0.1, 0.2, 0.3, 0.4, 0.5, 0.6, 0.7, 0.8, 0.9, 1, 1.1, 1.2, 1.3, 1.4, 1.5, 1.6, 1.7, 1.8, 1.9, 2, 2.1, 2.2, 2.3, 2.4, 2.5, 2.6, 2.7, 2.8, 2.9, 3, 3.1, 3.2, 3.3, 3.4, 3.5, 3.6, 3.7, 3.8, 3.9, 4],
            "labels": false, "domain": false, "tickSize": -5, "tickWidth": 1,
            "title": "GeV/c", "titleFontSize": 18,
            "titleX": 511, "titleY": 37, "titleAlign": "center", "titleBaseline": "alphabetic"
          }
        },
        "y": {
          "field": "t", "type": "quantitative",
          "scale": {"domain": [-14, 4], "nice": false, "zero": false},
          "axis": {
            "orient": "left", "labels": false, "ticks": false, "domain": false, "values": [],
            "title": "117cm", "titleFontSize": 15, "titleAngle": 270,
            "titleX": -35, "titleY": 209, "titleAlign": "center", "titleBaseline": "middle"
          }
        },
        "color": {"field": "particle", "type": "nominal"},
        "detail": {"field": "particle"}
      }
    },
    {
      "data": {"name": "box"},
      "mark": {"type": "rect", "fill": "white", "stroke": "black", "strokeWidth": 2},
      "encoding": {
        "x": {"field": "p", "type": "quantitative", "scale": {"domain": [0, 4], "nice": false, "zero": false}, "axis": null},
        "x2": {"field": "p2"},
        "y": {"field": "t", "type": "quantitative", "scale": {"domain": [-14, 4], "nice": false, "zero": false}, "axis": null},
        "y2": {"field": "t2"}
      }
    },
    {
      "data": {"name": "boxLeft"},
      "mark": {"type": "text", "font": "Liberation Serif", "fontSize": 20, "color": "black", "align": "left", "baseline": "alphabetic"},
      "encoding": {
        "x": {"field": "p", "type": "quantitative", "scale": {"domain": [0, 4], "nice": false, "zero": false}, "axis": null},
        "y": {"field": "t", "type": "quantitative", "scale": {"domain": [-14, 4], "nice": false, "zero": false}, "axis": null},
        "text": {"field": "label"}
      }
    },
    {
      "data": {"name": "boxRight"},
      "mark": {"type": "text", "font": "Liberation Serif", "fontSize": 20, "color": "black", "align": "right", "baseline": "alphabetic"},
      "encoding": {
        "x": {"field": "p", "type": "quantitative", "scale": {"domain": [0, 4], "nice": false, "zero": false}, "axis": null},
        "y": {"field": "t", "type": "quantitative", "scale": {"domain": [-14, 4], "nice": false, "zero": false}, "axis": null},
        "text": {"field": "label"}
      }
    },
    {
      "data": {"name": "cut"},
      "mark": {"type": "text", "font": "Liberation Serif", "fontSize": 30, "color": "black", "align": "left", "baseline": "alphabetic"},
      "encoding": {
        "x": {"field": "p", "type": "quantitative", "scale": {"domain": [0, 4], "nice": false, "zero": false}, "axis": null},
        "y": {"field": "t", "type": "quantitative", "scale": {"domain": [-14, 4], "nice": false, "zero": false}, "axis": null},
        "text": {"field": "label"}
      }
    },
    {
      "data": {"name": "cutSub"},
      "mark": {"type": "text", "font": "Liberation Serif", "fontSize": 18, "color": "black", "align": "left", "baseline": "alphabetic"},
      "encoding": {
        "x": {"field": "p", "type": "quantitative", "scale": {"domain": [0, 4], "nice": false, "zero": false}, "axis": null},
        "y": {"field": "t", "type": "quantitative", "scale": {"domain": [-14, 4], "nice": false, "zero": false}, "axis": null},
        "text": {"field": "label"}
      }
    }
  ],
  "resolve": {"axis": {"x": "independent", "y": "independent"}}
}
